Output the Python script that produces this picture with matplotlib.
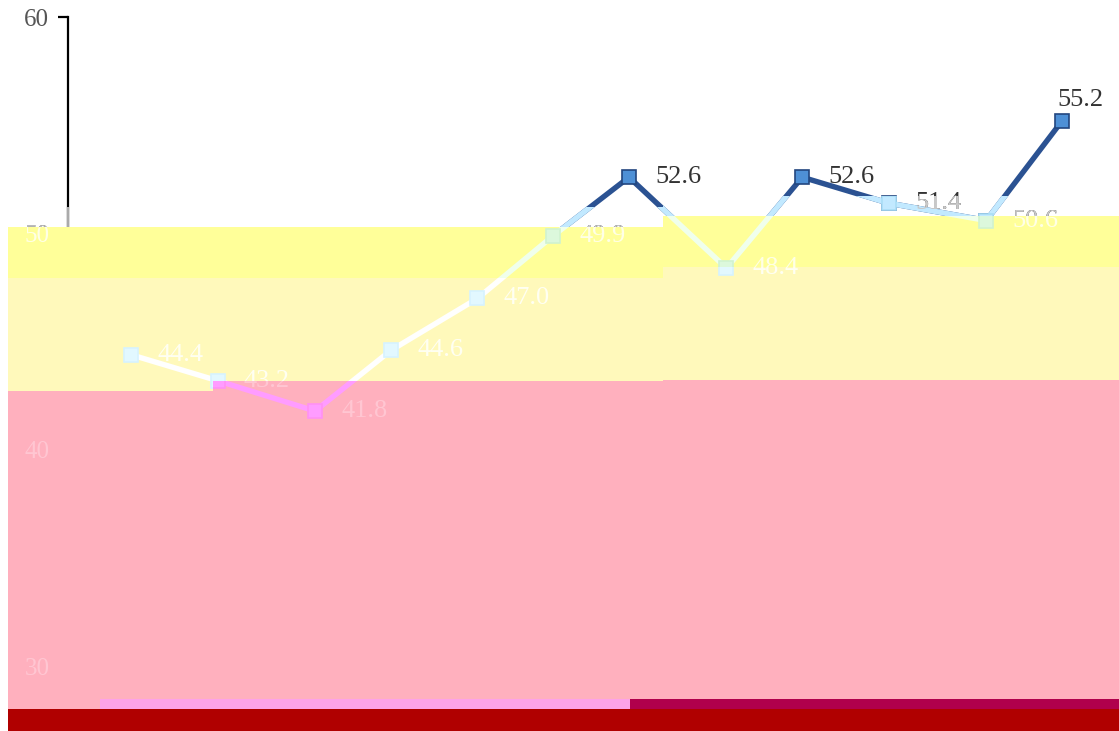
import matplotlib
matplotlib.use("Agg")
import matplotlib.pyplot as plt
from matplotlib.patches import Rectangle
from matplotlib.lines import Line2D

# ---- data ----
days = [0, 8, 17, 24, 32, 39, 46, 55, 62, 70, 79, 86]
values = [44.4, 43.2, 41.8, 44.6, 47.0, 49.9, 52.6, 48.4, 52.6, 51.4, 50.6, 55.2]
y_ticks = [30, 40, 50, 60]
y_tick_labels = ["30", "40", "50", "60"]

W, H = 1119, 731
PX_PER_DAY = 10.826
FONT = "Liberation Serif"

fig = plt.figure(figsize=(W / 100, H / 100), dpi=100)
ax_left, ax_right, ax_top, ax_bot = 68, 1110, 17, 666.5
ax = fig.add_axes([ax_left / W, 1 - ax_bot / H, (ax_right - ax_left) / W, (ax_bot - ax_top) / H])
ax.set_ylim(30, 60)
ax.set_xlim(-(131 - ax_left) / PX_PER_DAY, (ax_right - 131) / PX_PER_DAY)
for s in ["top", "right", "bottom"]:
    ax.spines[s].set_visible(False)
ax.spines["left"].set_linewidth(1.6)
ax.spines["left"].set_color("black")
ax.set_xticks([])
ax.set_yticks(y_ticks)
ax.set_yticklabels(y_tick_labels, family=FONT, fontsize=18, color="#555555")
ax.tick_params(axis="y", length=7.5, width=1.6, pad=6, color="black")
ax.patch.set_visible(False)

# label offsets (points) and alignment
offs = [(19, 0, "left", "center")] * (len(values) - 1) + [(13, 7, "center", "bottom")]


def frect(x0, y0, x1, y1, **kw):
    return Rectangle((x0 / W, 1 - y1 / H), (x1 - x0) / W, (y1 - y0) / H,
                     transform=fig.transFigure, **kw)


clip_coords = {}


def draw_series(lc, mfc, mec, tc, z, clip=None):
    ln, = ax.plot(days, values, color=lc, lw=3.9, marker="s", ms=9.8, mfc=mfc,
                  mec=mec, mew=1.2, zorder=z, solid_joinstyle="miter")
    if clip is not None:
        ln.set_clip_on(True)
        ln.set_clip_path(clip)
    else:
        ln.set_clip_on(False)
    for d, v, (dx, dy, ha, va) in zip(days, values, offs):
        t = ax.annotate(f"{v:.1f}", (d, v), xytext=(dx, dy), textcoords="offset points",
                        ha=ha, va=va, family=FONT, fontsize=19, color=tc, zorder=z + 0.5,
                        annotation_clip=False)
        if clip is not None:
            t.set_clip_on(True)
            t.set_clip_path(frect(*clip_coords[id(clip)]))


# base (white zone)
draw_series("#2B5292", "#4E90D6", "#22467F", "#333333", 3)

# zones: (x0, y0, x1, y1, bg, line, marker face, marker edge, text, axis)
zones = [
    (8, 207, 663, 227, None, "#C2E9FF", "#C2E9FF", "#A9DDF6", "#C8C8C8", "#AAAAAA"),
    (663, 196, 1119, 216, None, "#C2E9FF", "#C2E9FF", "#A9DDF6", "#C8C8C8", "#AAAAAA"),
    (8, 227, 663, 278, "#FFFF99", "#F0FFEC", "#DCF8DC", "#D0F2D0", "#FFFFE6", None),
    (663, 216, 1119, 267, "#FFFF99", "#F0FFEC", "#DCF8DC", "#D0F2D0", "#FFFFE6", None),
    (8, 278, 213, 391, "#FFF9BB", "#FFFFFF", "#E2F8FF", "#D6F2FF", "#FFFFF2", None),
    (213, 278, 663, 381, "#FFF9BB", "#FFFFFF", "#E2F8FF", "#D6F2FF", "#FFFFF2", None),
    (663, 267, 1119, 380, "#FFF9BB", "#FFFFFF", "#E2F8FF", "#D6F2FF", "#FFFFF2", None),
    (8, 391, 213, 709, "#FFB0BE", "#FF9CFF", "#FF9CFF", "#FF90F4", "#FFC6D2", None),
    (213, 381, 663, 709, "#FFB0BE", "#FF9CFF", "#FF9CFF", "#FF90F4", "#FFC6D2", None),
    (663, 380, 1119, 699, "#FFB0BE", "#FF9CFF", "#FF9CFF", "#FF90F4", "#FFC6D2", None),
]

z = 5
for (x0, y0, x1, y1, bg, lc, mfc, mec, tc, axc) in zones:
    if bg is not None:
        ax.add_patch(frect(x0, y0, x1, y1, facecolor=bg, edgecolor="none",
                           zorder=z, clip_on=False))
    clip = frect(x0, y0, x1, y1)
    clip_coords[id(clip)] = (x0, y0, x1, y1)
    draw_series(lc, mfc, mec, tc, z + 1, clip)
    # tick labels redrawn with zone colour
    for tv, tl in zip(y_ticks, y_tick_labels):
        t = ax.annotate(tl, (0, tv), xycoords=("axes fraction", "data"),
                        xytext=(-13.5, 0), textcoords="offset points", ha="right",
                        va="center_baseline", family=FONT, fontsize=18,
                        color=tc if bg is not None else "#BBBBBB", zorder=z + 1)
        t.set_clip_on(True)
        t.set_clip_path(frect(x0, y0, x1, y1))
    if axc is not None:
        sp = Line2D([0, 0], [0, 1], transform=ax.transAxes, color=axc, lw=1.6, zorder=z + 1)
        ax.add_line(sp)
        sp.set_clip_on(True)
        sp.set_clip_path(frect(x0, y0, x1, y1))
    z += 2

# bottom strips
ax.add_patch(frect(100, 699, 630, 709, facecolor="#FDA2E8", edgecolor="none", zorder=z, clip_on=False))
ax.add_patch(frect(630, 699, 1119, 709, facecolor="#B0004C", edgecolor="none", zorder=z, clip_on=False))
ax.add_patch(frect(8, 709, 1119, 731, facecolor="#B00000", edgecolor="none", zorder=z, clip_on=False))

fig.savefig("out.png", dpi=100, facecolor="white")
